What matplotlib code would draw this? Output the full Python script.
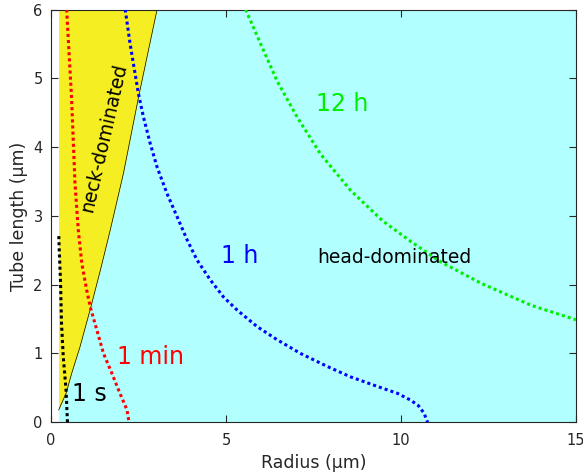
import matplotlib
matplotlib.use("Agg")
import matplotlib.pyplot as plt

# ---- data ----
r_min = 0.22
x_max, y_max = 15, 6

neck_r = [0.22, 0.43, 0.59, 0.83, 1.13, 1.41, 1.69, 2.07, 2.51, 3.03]
neck_L = [0.18, 0.42, 0.71, 1.10, 1.66, 2.21, 2.79, 3.62, 4.75, 6.00]

s1_r = [0.47, 0.43, 0.35, 0.30, 0.27, 0.235, 0.22]
s1_L = [0.00, 0.47, 0.95, 1.44, 2.07, 2.50, 2.75]

min1_r = [0.447, 0.59, 0.685, 0.78, 0.88, 1.02, 1.13, 1.31, 1.50, 1.74, 1.97, 2.17, 2.23]
min1_L = [6.00, 4.68, 3.47, 2.79, 2.31, 1.92, 1.66, 1.34, 1.00, 0.71, 0.42, 0.18, 0.00]

h1_r = [2.12, 2.26, 2.50, 2.64, 2.83, 3.03, 3.31, 3.60, 3.89, 4.17, 4.55, 4.93, 5.32,
        5.89, 6.46, 7.13, 7.90, 8.56, 9.33, 9.90, 10.28, 10.50, 10.66, 10.76]
h1_L = [6.00, 5.50, 4.77, 4.44, 4.06, 3.71, 3.33, 2.99, 2.65, 2.36, 2.07, 1.82, 1.63,
        1.39, 1.20, 1.00, 0.81, 0.66, 0.52, 0.42, 0.32, 0.24, 0.13, 0.00]

h12_r = [5.56, 5.99, 6.46, 7.04, 7.70, 8.56, 9.47, 10.30, 11.14, 12.29, 13.72, 15.0]
h12_L = [6.00, 5.50, 4.96, 4.43, 3.90, 3.37, 2.93, 2.62, 2.33, 2.02, 1.70, 1.49]

x_ticks = [0, 5, 10, 15]
y_ticks = [0, 1, 2, 3, 4, 5, 6]

# ---- figure ----
fig = plt.figure(figsize=(5.83, 4.75), dpi=100)
ax = fig.add_axes([0.0875, 0.111, 0.9005, 0.869])

cyan = '#b2ffff'
yellow = '#f4ee22'
ax.fill_between([r_min, x_max], 0, y_max, color=cyan, lw=0, zorder=0)
ax.fill_betweenx(neck_L + [y_max], [r_min] * (len(neck_L) + 1), neck_r + [neck_r[-1]],
                 color=yellow, lw=0, zorder=1)
ax.plot(neck_r, neck_L, color='black', lw=0.5, zorder=2)

dots = (0, (1, 1))
lw = 2.2
ax.plot(s1_r, s1_L, color='black', lw=lw, ls=dots, zorder=3)
ax.plot(min1_r, min1_L, color='#ff0000', lw=lw, ls=dots, zorder=3)
ax.plot(h1_r, h1_L, color='#0000ff', lw=lw, ls=dots, zorder=3)
ax.plot(h12_r, h12_L, color='#00ee00', lw=lw, ls=dots, zorder=3)

fs = 17
ax.text(1.09, 0.41, '1 s', color='black', fontsize=fs, ha='center', va='center')
ax.text(2.85, 0.95, '1 min', color='#ff0000', fontsize=fs, ha='center', va='center')
ax.text(5.40, 2.41, '1 h', color='#0000ff', fontsize=fs, ha='center', va='center')
ax.text(8.31, 4.62, '12 h', color='#00ee00', fontsize=fs, ha='center', va='center')
ax.text(9.80, 2.40, 'head-dominated', color='black', fontsize=13.5, ha='center', va='center')
ax.text(1.50, 4.13, 'neck-dominated', color='black', fontsize=13.5, ha='center', va='center',
        rotation=77, rotation_mode='anchor')

ax.set_xlim(0, x_max)
ax.set_ylim(0, y_max)
ax.set_xticks(x_ticks)
ax.set_yticks(y_ticks)
ax.tick_params(direction='in', top=True, right=True, length=5, width=0.8,
               color='#262626', labelcolor='#262626', labelsize=10.5)
ax.tick_params(axis='x', pad=8)
ax.tick_params(axis='y', pad=6)
for sp in ax.spines.values():
    sp.set_color('#262626')
    sp.set_linewidth(0.8)
ax.set_xlabel('Radius (μm)', fontsize=12.5, color='#262626', labelpad=4)
ax.set_ylabel('Tube length (μm)', fontsize=12.5, color='#262626', labelpad=4)

fig.savefig('out.png', dpi=100)
